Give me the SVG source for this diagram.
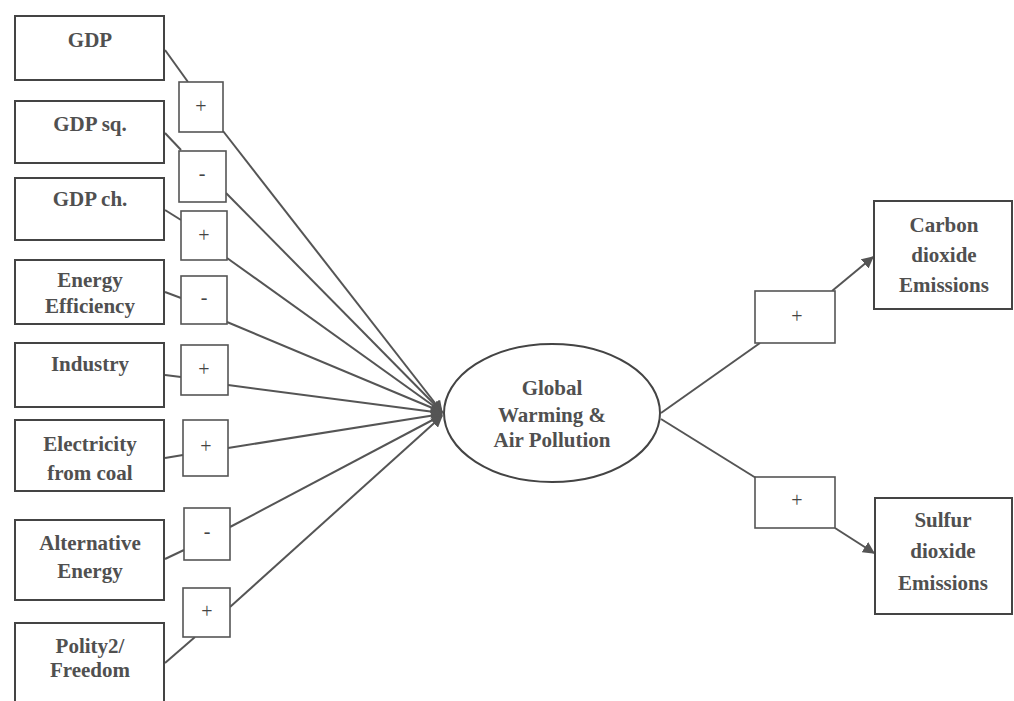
<svg xmlns="http://www.w3.org/2000/svg" width="1014" height="701" viewBox="0 0 1014 701">
<style>
.box{fill:#fff;stroke:#444;stroke-width:2}
.sign{fill:#fff;stroke:#555;stroke-width:1.6}
.t{font-family:"Liberation Serif","Times New Roman",serif;font-size:21px;font-weight:bold;fill:#505050;text-anchor:middle}
.s{font-family:"Liberation Serif","Times New Roman",serif;font-size:20px;fill:#444;text-anchor:middle}
.c{fill:none;stroke:#555;stroke-width:2}
.ca{fill:none;stroke:#555;stroke-width:2;marker-end:url(#ah)}
</style>
<defs>
<marker id="ah" viewBox="0 0 10 10" refX="9" refY="5" markerWidth="6" markerHeight="6" orient="auto" markerUnits="strokeWidth">
<path d="M0,0 L10,5 L0,10 z" fill="#555"/>
</marker>
</defs>
<rect width="1014" height="701" fill="#fff"/>
<g id="connectors">
<path class="c" d="M165,50 L188,82"/>
<path class="c" d="M165,133 L181,150"/>
<path class="c" d="M165,210 L181,220"/>
<path class="c" d="M165,292 L181,298"/>
<path class="c" d="M165,375 L181,377"/>
<path class="c" d="M165,458 L183,455"/>
<path class="c" d="M165,559 L184,550"/>
<path class="c" d="M165,663 L195,637"/>
<path class="ca" d="M223,131 L442,412"/>
<path class="ca" d="M226,193 L442,412"/>
<path class="ca" d="M227,258 L442,412"/>
<path class="ca" d="M227,322 L442,412"/>
<path class="ca" d="M228,385 L442,413"/>
<path class="ca" d="M228,448 L442,414"/>
<path class="ca" d="M230,527 L442,415"/>
<path class="ca" d="M230,607 L442,416"/>
<path class="c" d="M661,413 L760,343"/>
<path class="ca" d="M832,291 L873,257"/>
<path class="c" d="M661,419 L756,478"/>
<path class="ca" d="M835,528 L874,553"/>
</g>
<g id="n-gdp"><rect class="box" x="15" y="16" width="149" height="64"/><text class="t" x="90" y="47">GDP</text></g>
<g id="n-gdpsq"><rect class="box" x="15" y="101" width="149" height="62"/><text class="t" x="90" y="131">GDP sq.</text></g>
<g id="n-gdpch"><rect class="box" x="15" y="178" width="149" height="62"/><text class="t" x="90" y="206">GDP ch.</text></g>
<g id="n-ee"><rect class="box" x="15" y="260" width="149" height="64"/><text class="t" x="90" y="287">Energy</text><text class="t" x="90" y="313">Efficiency</text></g>
<g id="n-ind"><rect class="box" x="15" y="343" width="149" height="64"/><text class="t" x="90" y="371">Industry</text></g>
<g id="n-elec"><rect class="box" x="15" y="420" width="149" height="71"/><text class="t" x="90" y="451">Electricity</text><text class="t" x="90" y="480">from coal</text></g>
<g id="n-alt"><rect class="box" x="15" y="520" width="149" height="80"/><text class="t" x="90" y="550">Alternative</text><text class="t" x="90" y="578">Energy</text></g>
<g id="n-pol"><path class="box" d="M15,702 L15,623 L164,623 L164,702"/><text class="t" x="90" y="653">Polity2/</text><text class="t" x="90" y="677">Freedom</text></g>
<g id="s1"><rect class="sign" x="179" y="82" width="44" height="50"/><text class="s" x="201" y="113">+</text></g>
<g id="s2"><rect class="sign" x="179" y="151" width="47" height="51"/><text class="s" x="202" y="180">-</text></g>
<g id="s3"><rect class="sign" x="181" y="211" width="46" height="49"/><text class="s" x="204" y="242">+</text></g>
<g id="s4"><rect class="sign" x="181" y="276" width="46" height="48"/><text class="s" x="204" y="304">-</text></g>
<g id="s5"><rect class="sign" x="181" y="345" width="47" height="50"/><text class="s" x="204" y="376">+</text></g>
<g id="s6"><rect class="sign" x="183" y="420" width="45" height="56"/><text class="s" x="206" y="453">+</text></g>
<g id="s7"><rect class="sign" x="184" y="508" width="46" height="52"/><text class="s" x="207" y="538">-</text></g>
<g id="s8"><rect class="sign" x="183" y="588" width="47" height="49"/><text class="s" x="207" y="618">+</text></g>
<g id="n-center"><ellipse class="box" cx="552" cy="413" rx="108" ry="69"/><text class="t" x="552" y="395">Global</text><text class="t" x="552" y="422">Warming &amp;</text><text class="t" x="552" y="447">Air Pollution</text></g>
<g id="s9"><rect class="sign" x="755" y="291" width="80" height="52"/><text class="s" x="797" y="323">+</text></g>
<g id="s10"><rect class="sign" x="755" y="477" width="80" height="51"/><text class="s" x="797" y="507">+</text></g>
<g id="n-co2"><rect class="box" x="874" y="201" width="138" height="108"/><text class="t" x="944" y="232">Carbon</text><text class="t" x="944" y="262">dioxide</text><text class="t" x="944" y="292">Emissions</text></g>
<g id="n-so2"><rect class="box" x="875" y="498" width="137" height="116"/><text class="t" x="943" y="527">Sulfur</text><text class="t" x="943" y="558">dioxide</text><text class="t" x="943" y="590">Emissions</text></g>
</svg>
